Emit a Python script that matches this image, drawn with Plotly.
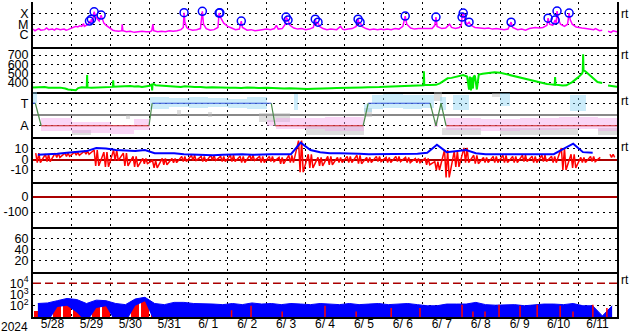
import pandas as pd
import plotly.graph_objects as go
from plotly.subplots import make_subplots

START = pd.Timestamp("2024-05-28")
END = pd.Timestamp("2024-06-12")
DAY_MS = 86400000
BIN = 0.25
FONT = "Liberation Sans"

# ---------------- Panel 1: X-ray flux (log10 W/m2) ----------------
xray_day = [0.00,0.05,0.10,0.15,0.20,0.30,0.35,0.40,0.50,0.55,0.60,0.70,0.80,0.85,0.90,1.00,
            1.05,1.10,1.15,1.20,1.25,1.30,1.32,1.38,1.42,1.45,1.48,1.50,1.53,1.57,1.60,1.65,1.70,1.75,1.78,1.82,1.88,1.95,2.00,
            2.05,2.10,2.20,2.28,2.29,2.31,2.40,2.50,2.60,2.70,2.80,2.90,3.00,
            3.05,3.08,3.10,3.20,3.30,3.40,3.50,3.60,3.70,3.80,3.86,3.88,3.90,3.95,4.00,
            4.10,4.20,4.30,4.35,4.38,4.45,4.55,4.65,4.75,4.78,4.82,4.90,5.00,
            5.10,5.20,5.30,5.35,5.38,5.50,5.60,5.70,5.80,5.90,6.00,
            6.10,6.20,6.25,6.30,6.40,6.48,6.50,6.55,6.60,6.70,6.80,6.90,7.00,
            7.10,7.20,7.25,7.28,7.32,7.36,7.45,7.55,7.65,7.80,7.90,7.95,8.00,
            8.10,8.20,8.30,8.35,8.38,8.40,8.45,8.55,8.65,8.75,8.85,8.95,9.00,
            9.10,9.20,9.30,9.40,9.50,9.56,9.60,9.70,9.80,9.90,10.00,
            10.05,10.15,10.25,10.32,10.35,10.38,10.50,10.60,10.70,10.75,10.85,10.95,11.00,
            11.02,11.05,11.10,11.15,11.20,11.25,11.35,11.45,11.60,11.70,11.80,11.90,12.00,
            12.10,12.20,12.28,12.32,12.45,12.55,12.65,12.75,12.90,13.00,
            13.10,13.20,13.23,13.27,13.35,13.41,13.44,13.46,13.50,13.55,13.65,13.73,13.77,13.80,13.85,13.95,14.00,
            14.10,14.20,14.30,14.40,14.45,14.55,14.62,14.70,14.77,14.85,14.90,15.00]
xray_log = [-5.45,-5.60,-5.50,-5.40,-5.55,-5.50,-5.35,-5.50,-5.45,-5.55,-5.40,-5.50,-5.45,-5.55,-5.50,-5.35,
            -5.25,-5.20,-5.25,-5.15,-5.20,-4.95,-5.20,-5.10,-5.00,-4.71,-4.90,-4.53,-4.80,-3.85,-4.20,-4.50,-4.70,-4.16,-4.60,-4.90,-5.10,-5.30,-5.40,
            -5.55,-5.60,-5.65,-5.60,-5.00,-5.60,-5.70,-5.65,-5.75,-5.70,-5.65,-5.70,-5.70,
            -5.60,-5.00,-5.60,-5.70,-5.65,-5.70,-5.60,-5.65,-5.60,-5.50,-5.30,-3.94,-4.80,-5.30,-5.45,
            -5.55,-5.50,-5.40,-3.81,-5.00,-5.40,-5.55,-5.50,-5.30,-3.97,-4.40,-4.90,-5.20,
            -5.35,-5.50,-5.45,-4.71,-5.30,-5.55,-5.50,-5.60,-5.55,-5.50,-5.45,
            -5.50,-5.40,-5.10,-5.45,-5.40,-5.00,-4.34,-4.62,-5.10,-5.35,-5.45,-5.40,-5.50,
            -5.45,-5.30,-4.53,-5.00,-4.81,-5.20,-5.40,-5.50,-5.45,-5.50,-5.20,-5.45,-5.50,
            -5.45,-5.40,-5.20,-4.53,-5.00,-4.81,-5.20,-5.40,-5.50,-5.45,-5.50,-5.45,-5.50,
            -5.45,-5.50,-5.40,-5.45,-5.20,-4.25,-5.00,-5.35,-5.45,-5.40,-5.40,
            -5.40,-5.35,-5.40,-5.10,-4.34,-5.20,-5.40,-5.35,-5.00,-5.30,-5.40,-5.30,-5.10,
            -4.34,-3.97,-4.70,-5.00,-4.81,-5.10,-5.30,-5.35,-5.40,-5.35,-5.45,-5.40,-5.45,
            -5.50,-5.45,-4.81,-5.30,-5.50,-5.45,-5.55,-5.40,-5.30,-5.35,
            -5.30,-5.10,-4.44,-5.00,-5.10,-4.62,-4.90,-3.79,-4.60,-5.00,-5.20,-5.00,-3.97,-4.60,-5.00,-5.25,-5.30,
            -5.35,-5.40,-5.45,-5.50,-5.40,-5.60,-5.55,None,-5.65,-5.75,-5.60,-5.70]
flare_day = [1.45,1.50,1.57,1.75,3.88,4.35,4.78,4.80,5.35,6.50,6.55,7.25,7.32,8.35,8.40,9.56,
             10.35,11.02,11.05,11.20,12.28,13.23,13.41,13.46,13.77]
flare_log = [-4.71,-4.53,-3.85,-4.16,-3.94,-3.81,-3.97,-3.95,-4.71,-4.34,-4.62,-4.53,-4.81,-4.53,-4.81,-4.25,
             -4.34,-4.34,-3.97,-4.81,-4.81,-4.44,-4.62,-3.79,-3.97]
xray_ticks = [1e-4, 1e-5, 1e-6]
xray_labels = ["X", "M", "C"]

# ---------------- Panel 2: solar wind speed (km/s) ----------------
speed_day = [0.00,0.10,0.20,0.30,0.40,0.50,0.60,0.70,0.80,0.83,0.90,0.95,1.05,1.10,1.16,1.25,1.35,1.38,1.39,1.40,
             1.50,1.60,1.70,1.80,1.90,2.00,2.05,2.06,2.07,2.20,2.30,2.40,2.50,2.60,2.70,2.80,2.90,3.00,
             3.05,3.06,3.07,3.10,3.15,3.25,3.35,3.50,3.60,3.70,3.80,3.90,4.00,
             4.15,4.30,4.45,4.60,4.75,4.90,5.05,5.20,5.35,5.50,5.65,5.80,6.00,
             6.15,6.30,6.45,6.60,6.75,6.90,7.05,7.20,7.35,7.50,7.65,7.80,8.00,
             8.15,8.30,8.45,8.60,8.75,8.90,9.05,9.20,9.35,9.50,9.65,9.80,9.95,
             10.03,10.04,10.05,10.20,10.35,10.45,10.55,10.65,10.75,10.85,10.95,
             11.05,11.15,11.20,11.22,11.25,11.27,11.30,11.32,11.35,11.40,11.45,11.55,11.70,11.85,12.00,
             12.15,12.30,12.45,12.60,12.75,12.90,13.00,13.10,13.20,13.30,13.40,13.41,13.42,13.50,13.60,13.70,13.85,
             14.00,14.05,14.10,14.12,14.13,14.14,14.20,14.30,14.40,14.50,14.62,14.70,14.77,14.90,15.00]
speed_val = [352,355,350,356,350,353,348,350,345,340,330,328,325,322,345,355,352,352,485,352,
             348,350,346,352,350,355,358,430,360,362,365,360,368,363,365,358,362,370,
             385,320,385,390,375,372,368,365,360,362,358,365,360,
             356,358,352,355,350,352,348,350,346,352,348,346,350,
             345,345,340,342,338,340,336,338,342,340,344,345,345,
             348,350,352,355,352,356,360,362,358,365,368,370,372,
             375,525,378,378,380,395,420,450,455,465,470,
             485,470,330,470,320,460,340,470,480,330,490,500,505,515,510,
             495,480,460,445,430,415,410,400,390,385,380,465,382,378,372,375,410,
             460,480,500,520,710,540,520,480,440,410,400,None,372,365,360]
speed_ticks = [400, 500, 600, 700]

# ---------------- Panel 3: IMF sector (T = toward, A = away) ----------------
sector_day = [0, 0.06, 0.21, 2.98, 3.06, 6.12, 6.22, 8.48, 8.61, 10.20, 10.35, 10.48, 10.61, 15]
sector_val = [1, 1, -1, -1, 1, 1, -1, -1, 1, 1, -1, 1, -1, -1]
# (day start, day end, low, high) of the scattered direction points
toward_patches = [(0.00,0.10,1.0,2.0),(3.00,3.50,0.5,1.6),(3.50,4.00,0.7,1.5),(4.00,4.50,0.6,1.6),
                  (4.50,5.00,0.7,1.5),(5.00,5.50,0.6,1.4),(5.50,6.00,0.5,1.6),(6.70,6.80,0.4,1.8),
                  (8.50,8.70,0.2,0.9),(8.70,9.00,0.5,1.7),(9.00,9.50,0.6,1.8),(9.50,10.00,0.5,1.7),
                  (10.00,10.30,0.6,1.7),(10.45,10.60,0.4,1.6),(10.80,11.20,0.4,1.7),(12.00,12.25,0.8,1.9),
                  (13.80,14.20,0.3,1.7)]
away_patches = [(0.20,1.00,-1.5,-0.3),(1.00,2.00,-1.6,-0.7),(2.00,2.60,-1.7,-0.9),(2.60,3.00,-1.4,-0.4),
                (6.00,6.25,-1.0,-0.5),(6.25,7.50,-1.3,-0.3),(7.50,8.50,-1.5,-0.2),(10.30,10.40,-1.1,-0.5),
                (10.60,11.50,-1.4,-0.3),(11.50,12.50,-1.5,-0.4),(12.50,13.50,-1.4,-0.3),(13.50,14.50,-1.3,-0.2),
                (14.50,15.00,-1.5,-0.3)]
other_patches = [(1.00,1.50,-1.8,-1.4),(2.40,2.50,-0.4,0.0),(3.70,3.80,0.0,0.4),(4.50,4.60,-0.2,0.2),
                 (5.80,6.60,-0.7,0.1),(7.00,8.50,-1.8,-1.0),(8.50,8.70,-0.2,0.6),(10.30,10.50,1.2,2.0),
                 (10.50,11.50,-1.8,-1.2),(11.80,12.00,1.6,1.9),(12.00,14.00,-1.8,-1.2),(14.50,15.00,-1.8,-1.2)]

# ---------------- Panel 4: IMF Bt (blue) and Bz (red), nT, 6-hour bins ----------------
bt_val = [4.5,4.8,5.5,6.5, 7.5,8,11,10.5, 9,8.5,8,9, 6,6,6,5, 4.5,4.5,4,4.5,
          5,5,4.5,5, 5,5,5,16, 9,7,6,6, 6,5.5,5,5, 5,5,5,5.5,
          6.5,14,7,8, 9,6,5,5, 5,5,4.5,5, 5,5,10,15, 7,6.5,None,6]
bz_hi = [6,5,6,6, 7,8,9,7, 9,6,3,1, -1,1,1,3, 4,3,4,3,
         4,3,4,3, 3,2,4,18, 5,2,3,2, 3,4,2,3, 2,3,2,1,
         1,-2,9,8, 11,4,2,3, 4,3,4,3, 4,3,11,5, 2,3,2,5]
bz_lo = [-3,-2,2,3, 4,5,-6,-7, -1,-6,-7,-4, -8,-5,-3,-2, -1,-2,-1,-2,
         -2,-3,-1,-3, -2,-4,-3,-12, -8,-6,-5,-3, -3,-4,-3,-2, -3,-2,-3,-3,
         -5,-10,-17,-7, -3,-4,-3,-3, -3,-3,-2,-3, -2,-3,-10,-8, -3,-2,None,2]

# ---------------- Panel 7: particle flux (log10), 6-hour bins ----------------
e_blue_hi = [2.2,2.25,2.45,2.65, 2.55,2.2,2.5,2.45, 2.2,2.1,2.6,2.75, 2.2,2.1,2.3,2.3, 2.2,2.2,2.15,2.1,
             2.2,2.1,2.25,2.15, 2.2,2.1,2.2,2.15, 2.1,2.2,2.15,2.1, 2.2,2.1,2.15,2.2, 2.1,2.15,2.2,2.1,
             2.0,2.0,2.15,2.15, 2.15,2.3,2.1,2.05, 2.05,2.1,2.0,2.1, 2.15,2.15,2.1,2.2, 2.0,2.0,1.1,2.0]
e_blue_lo = [0.5,0.5,1.9,2.0, 1.4,0.5,1.8,1.95, 0.5,0.5,2.0,2.4, 0.5,0.5,0.5,0.5, 0.5,0.5,0.5,0.5,
             0.5,0.5,0.5,0.5, 0.5,0.5,0.5,0.5, 0.5,0.5,0.5,0.5, 0.5,0.5,0.5,0.5, 0.5,0.5,0.5,0.5,
             0.5,0.5,0.5,0.5, 0.5,0.5,0.5,0.5, 0.5,0.5,0.5,0.5, 0.5,0.5,0.5,0.5, 0.5,0.5,0.5,0.5]
e_red_hi = [1.5,None,2.2,2.3, 2.25,None,2.2,2.3, 1.6,None,2.45,2.5, 1.8,None,None,2.1, 1.3,None,None,None]
red_spike_day = [5.1,5.6,6.4,7.5,8.3,9.2,9.94,11.02,11.3,11.61,11.97,12.51,12.95,13.54,13.87,14.38,14.74]
red_spike_hi = [1.6,2.0,1.5,2.0,1.5,1.8,1.8,2.1,1.5,1.5,2.1,2.0,2.1,2.0,1.5,2.1,1.8]
FLOOR = 0.5
ALERT = 1e4


def to_time(days):
    return [START + pd.Timedelta(days=d) for d in days]


fig = make_subplots(rows=7, cols=1, shared_xaxes=True, vertical_spacing=0)

# Panel 1
fig.add_trace(go.Scatter(x=to_time(xray_day), y=[None if v is None else 10 ** v for v in xray_log],
                         mode="lines", line=dict(color="#ff00ff", width=1.5), connectgaps=False), 1, 1)
fig.add_trace(go.Scatter(x=to_time(flare_day), y=[10 ** v for v in flare_log], mode="markers",
                         marker=dict(symbol="circle-open", size=8, color="#0000ff", line=dict(width=1.5))), 1, 1)

# Panel 2
fig.add_trace(go.Scatter(x=to_time(speed_day), y=speed_val, mode="lines",
                         line=dict(color="#00ee00", width=2), connectgaps=False), 2, 1)

# Panel 3
for patches, color in [(other_patches, "#b8b8b8"), (toward_patches, "#8fd6f4"), (away_patches, "#f4a6ec")]:
    fig.add_trace(go.Bar(x=[START + pd.Timedelta(days=(a + b) / 2) for a, b, lo, hi in patches],
                         y=[hi - lo for a, b, lo, hi in patches],
                         base=[lo for a, b, lo, hi in patches],
                         width=[(b - a) * DAY_MS for a, b, lo, hi in patches],
                         marker=dict(color=color, line=dict(width=0)), opacity=0.45), 3, 1)
seg = {"T": ([], []), "A": ([], []), "X": ([], [])}
for i in range(len(sector_day) - 1):
    v0, v1 = sector_val[i], sector_val[i + 1]
    key = "T" if (v0 == 1 and v1 == 1) else ("A" if (v0 == -1 and v1 == -1) else "X")
    xs, ys = seg[key]
    xs += to_time([sector_day[i], sector_day[i + 1]]) + [None]
    ys += [v0, v1, None]
for key, color in [("T", "#3355dd"), ("A", "#cc2222"), ("X", "#4a8a4a")]:
    fig.add_trace(go.Scatter(x=seg[key][0], y=seg[key][1], mode="lines",
                             line=dict(color=color, width=1.2)), 3, 1)

# Panel 4: Bz drawn as near-vertical strokes between each bin's high and low
bz_x, bz_y = [], []
for i in range(len(bz_hi)):
    bz_x += to_time([i * BIN + 0.07, i * BIN + 0.11, i * BIN + 0.15, i * BIN + 0.19])
    bz_y += [bz_hi[i], bz_lo[i], bz_hi[i], bz_lo[i]]
fig.add_trace(go.Scatter(x=bz_x, y=bz_y, mode="lines", line=dict(color="#ff0000", width=1.5),
                         connectgaps=False), 4, 1)
bin_c = to_time([i * BIN + BIN / 2 for i in range(len(bt_val))])
fig.add_trace(go.Scatter(x=bin_c, y=bt_val, mode="lines",
                         line=dict(color="#0000ff", width=2), connectgaps=False), 4, 1)

# Panel 5 and 6: no data, keep axes alive
fig.add_trace(go.Scatter(x=[START], y=[None], mode="lines"), 5, 1)
fig.add_trace(go.Scatter(x=[START], y=[None], mode="lines"), 6, 1)

# Panel 7
bin_t = to_time([i * BIN + BIN / 2 for i in range(len(e_blue_hi))])
fig.add_trace(go.Scatter(x=bin_t, y=[10 ** v for v in e_blue_lo], mode="lines",
                         line=dict(color="#0000ff", width=0)), 7, 1)
fig.add_trace(go.Scatter(x=bin_t, y=[10 ** v for v in e_blue_hi], mode="lines",
                         line=dict(color="#0000ff", width=1), fill="tonexty", fillcolor="#0000ff"), 7, 1)
red_idx = [i for i, v in enumerate(e_red_hi) if v is not None]
fig.add_trace(go.Bar(x=[bin_t[i] for i in red_idx], y=[10 ** e_red_hi[i] - 10 ** FLOOR for i in red_idx],
                     base=[10 ** FLOOR] * len(red_idx), width=[BIN * DAY_MS * 0.8] * len(red_idx),
                     marker=dict(color="#ff0000", line=dict(width=0))), 7, 1)
sx, sy = [], []
for d, h in zip(red_spike_day, red_spike_hi):
    sx += to_time([d, d]) + [None]
    sy += [10 ** FLOOR, 10 ** h, None]
fig.add_trace(go.Scatter(x=sx, y=sy, mode="lines", line=dict(color="#ff0000", width=1.5)), 7, 1)
fig.add_trace(go.Scatter(x=[START, END], y=[ALERT, ALERT], mode="lines",
                         line=dict(color="#aa0000", width=1.5, dash="8px,4px")), 7, 1)

# Axes
grid = dict(showgrid=True, gridcolor="black", gridwidth=1, griddash="2px,4px")
fig.update_xaxes(type="date", range=[START, END], tick0=START, dtick=DAY_MS, ticks="",
                 showline=True, linecolor="black", linewidth=2, mirror=False, zeroline=False, **grid)
fig.update_xaxes(row=7, col=1, ticklabelmode="period", tickformat="%-m/%e", ticklabelstandoff=-5,
                 tickfont=dict(size=12, family=FONT, color="black"))
fig.update_yaxes(showline=True, linecolor="black", linewidth=2, mirror=True, ticks="",
                 tickfont=dict(size=12.5, family=FONT, color="black"), zeroline=False, **grid)
fig.update_yaxes(row=1, col=1, type="log", range=[-7.1, -2.95], tickvals=xray_ticks, ticktext=xray_labels)
fig.update_yaxes(row=2, col=1, range=[303, 787], tickvals=speed_ticks, ticktext=[str(v) for v in speed_ticks])
fig.update_yaxes(row=3, col=1, range=[-2, 2], tickvals=[1, -1], ticktext=["T", "A"],
                 zeroline=True, zerolinecolor="#888888", zerolinewidth=2)
fig.update_yaxes(row=4, col=1, range=[-21.4, 21.4], tickvals=[10, 0, -10], ticktext=["10", "0", "-10"],
                 zeroline=True, zerolinecolor="#aa0000", zerolinewidth=1.5)
fig.update_yaxes(row=5, col=1, range=[-200, 100], tickvals=[0, -100], ticktext=["0", "-100"],
                 zeroline=True, zerolinecolor="#aa0000", zerolinewidth=1.5)
fig.update_yaxes(row=6, col=1, range=[-1.3, 80.5], tickvals=[20, 40, 60], ticktext=["20", "40", "60"])
fig.update_yaxes(row=7, col=1, type="log", range=[1, 5], tickvals=[1e2, 1e3, 1e4],
                 ticktext=["10<sup>2</sup>", "10<sup>3</sup>", "10<sup>4</sup>"])

ann = []
for yref, yv in [("y", -4.1), ("y2", 700), ("y3", 1.2), ("y4", 12), ("y7", 4.3)]:
    ann.append(dict(text="rt", xref="paper", x=1, xanchor="left", xshift=2, yref=yref, y=yv,
                    showarrow=False, font=dict(size=12, family=FONT, color="black")))
ann.append(dict(text="2024", xref="paper", x=0, xanchor="right", xshift=-3, yref="paper", y=0,
                yanchor="top", yshift=-1, showarrow=False, font=dict(size=12, family=FONT, color="black")))

fig.update_layout(width=633, height=334, margin=dict(l=33, r=16, t=2, b=17),
                  template="none", showlegend=False, barmode="overlay", bargap=0,
                  paper_bgcolor="white", plot_bgcolor="white",
                  font=dict(family=FONT, size=12, color="black"), annotations=ann)

fig.write_html("out.html")
